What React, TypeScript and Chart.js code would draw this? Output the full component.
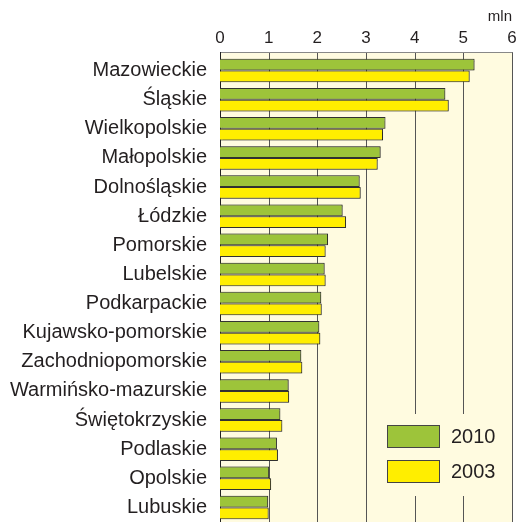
import React, { useEffect, useRef } from "react";
import { Chart, registerables } from "chart.js";

Chart.register(...registerables);

const categories = [
  "Mazowieckie",
  "Śląskie",
  "Wielkopolskie",
  "Małopolskie",
  "Dolnośląskie",
  "Łódzkie",
  "Pomorskie",
  "Lubelskie",
  "Podkarpackie",
  "Kujawsko-pomorskie",
  "Zachodniopomorskie",
  "Warmińsko-mazurskie",
  "Świętokrzyskie",
  "Podlaskie",
  "Opolskie",
  "Lubuskie",
];

const values2010 = [5.23, 4.63, 3.4, 3.3, 2.87, 2.52, 2.22, 2.15, 2.08, 2.04, 1.67, 1.41, 1.24, 1.17, 1.01, 0.99];
const values2003 = [5.13, 4.7, 3.35, 3.24, 2.89, 2.59, 2.17, 2.17, 2.09, 2.06, 1.69, 1.42, 1.28, 1.19, 1.05, 1.0];

const seriesLabels = ["2010", "2003"];
const seriesColors = ["#9dc43a", "#ffee00"];
const xTickValues = [0, 1, 2, 3, 4, 5, 6];
const unitLabel = "mln";

const FONT = "'Liberation Sans', Arial, Helvetica, sans-serif";
const TEXT = "#231f20";

const zeroPad = (s: any) => {
  s.paddingTop = 0;
  s.paddingBottom = 0;
  s.paddingLeft = 0;
  s.paddingRight = 0;
};

const decorPlugin = {
  id: "decor",
  beforeDraw(chart: any) {
    const { ctx, chartArea } = chart;
    const xs = chart.scales.x;
    const top = chartArea.top - 4;
    ctx.save();
    ctx.fillStyle = "#fffbe0";
    ctx.fillRect(chartArea.left, top, chartArea.right - chartArea.left, chartArea.bottom - top);
    ctx.lineWidth = 1;
    ctx.strokeStyle = "#555";
    xTickValues.forEach((v) => {
      if (v === 0) return;
      const x = Math.round(xs.getPixelForValue(v)) + 0.5;
      ctx.beginPath();
      ctx.moveTo(x, top);
      ctx.lineTo(x, chartArea.bottom);
      ctx.stroke();
    });
    ctx.strokeStyle = "#888";
    ctx.beginPath();
    ctx.moveTo(chartArea.left, top + 0.5);
    ctx.lineTo(Math.round(chartArea.right) + 0.5, top + 0.5);
    ctx.stroke();
    ctx.strokeStyle = "#222";
    ctx.beginPath();
    const lx = Math.round(chartArea.left) + 0.5;
    ctx.moveTo(lx, top);
    ctx.lineTo(lx, chartArea.bottom);
    ctx.stroke();
    ctx.restore();
  },
  beforeDatasetsDraw(chart: any) {
    const ctx = chart.ctx;
    ctx.save();
    ctx.shadowColor = "rgba(0,0,0,0.3)";
    ctx.shadowOffsetX = 1;
    ctx.shadowOffsetY = 0;
    ctx.shadowBlur = 1;
  },
  afterDatasetsDraw(chart: any) {
    chart.ctx.restore();
  },
  afterDraw(chart: any) {
    const { ctx, chartArea } = chart;
    const r = chartArea.right;
    const b = chartArea.bottom;
    ctx.save();
    ctx.fillStyle = "#fffbe0";
    ctx.fillRect(r - 142, b - 108, 138, 82);
    chart.data.datasets.forEach((ds: any, i: number) => {
      const y = b - 97 + i * 35;
      ctx.fillStyle = ds.backgroundColor;
      ctx.fillRect(r - 125, y, 53, 23);
      ctx.strokeStyle = "#444";
      ctx.lineWidth = 1;
      ctx.strokeRect(r - 124.5, y + 0.5, 52, 22);
      ctx.fillStyle = TEXT;
      ctx.font = `20px ${FONT}`;
      ctx.textAlign = "left";
      ctx.textBaseline = "middle";
      ctx.fillText(ds.label, r - 61, y + 12);
    });
    ctx.restore();
  },
};

export default function App() {
  const ref = useRef<HTMLCanvasElement>(null);
  useEffect(() => {
    if (!ref.current) return;
    Chart.defaults.font.family = FONT;
    const chart = new Chart(ref.current, {
      type: "bar",
      data: {
        labels: categories,
        datasets: [values2010, values2003].map((d, i) => ({
          label: seriesLabels[i],
          data: d,
          backgroundColor: seriesColors[i],
          borderColor: "#333",
          borderWidth: 1,
          barPercentage: 1,
          categoryPercentage: 0.81,
        })),
      },
      options: {
        indexAxis: "y",
        animation: false,
        responsive: false,
        devicePixelRatio: 1,
        layout: { padding: { left: 0, right: 9, top: 0, bottom: 0 } },
        plugins: { legend: { display: false }, tooltip: { enabled: false } },
        scales: {
          x: {
            position: "top",
            min: 0,
            max: 6,
            afterBuildTicks: (s: any) => {
              s.ticks = xTickValues.map((v) => ({ value: v }));
            },
            afterFit: (s: any) => {
              s.height = 56;
              zeroPad(s);
            },
            ticks: { font: { size: 17 }, color: TEXT, padding: 7 },
            grid: { display: false, drawTicks: false },
            border: { display: false },
            title: {
              display: true,
              text: unitLabel,
              align: "end",
              color: TEXT,
              font: { size: 15 },
              padding: { top: 8, bottom: 0 },
            },
          },
          y: {
            afterFit: (s: any) => {
              s.width = 220;
              zeroPad(s);
            },
            ticks: { font: { size: 20 }, color: TEXT, padding: 13 },
            grid: { display: false, drawTicks: false },
            border: { display: false },
          },
        },
      },
      plugins: [decorPlugin],
    } as any);
    return () => chart.destroy();
  }, []);
  return (
    <div style={{ position: "absolute", left: 0, top: 0, width: 521, height: 522 }}>
      <canvas ref={ref} width={521} height={522} style={{ display: "block" }} />
    </div>
  );
}
